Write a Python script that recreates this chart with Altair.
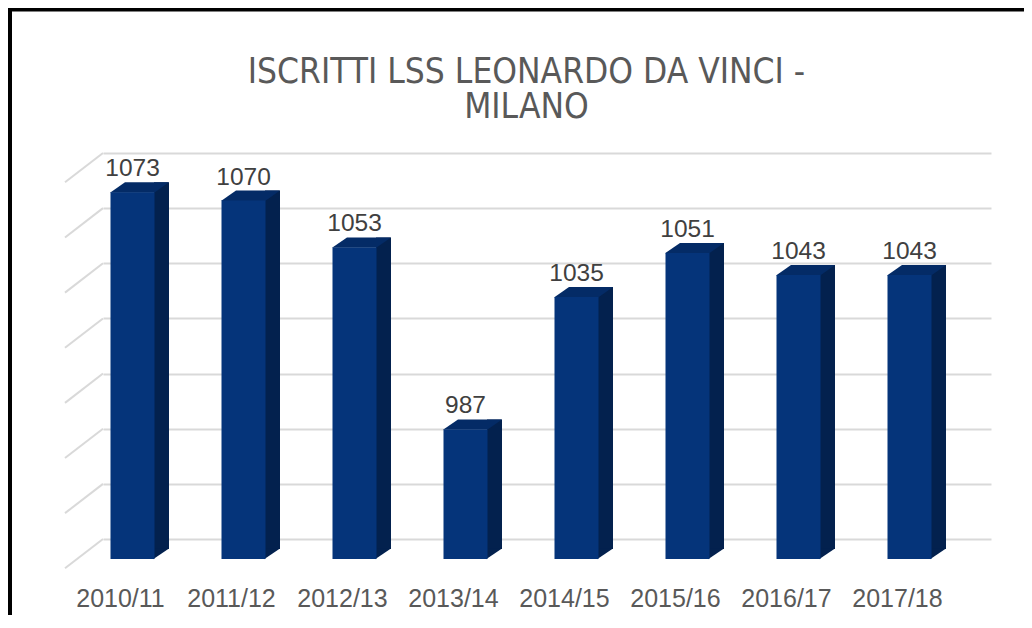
import altair as alt
import pandas as pd

# ---- data ----
years = ["2010/11", "2011/12", "2012/13", "2013/14", "2014/15", "2015/16", "2016/17", "2017/18"]
iscritti = [1073, 1070, 1053, 987, 1035, 1051, 1043, 1043]
grid_values = [940, 960, 980, 1000, 1020, 1040, 1060, 1080]
title_lines = ["ISCRITTI LSS LEONARDO DA VINCI -", "MILANO"]

Y_MIN, Y_MAX = 940, 1080
W, H = 888, 386
PL, PT, PR, PB = 95, 145, 33, 76

FRONT = "#05347A"
TOP = "#042B66"
SIDE = "#03214E"
GRID = "#D9D9D9"
TXT = "#595959"
LBL = "#404040"
LABEL_FONT = "Liberation Sans"
TITLE_FONT = "'Liberation Sans Narrow', 'DejaVu Sans Condensed', sans-serif"

df = pd.DataFrame({"anno": years, "iscritti": iscritti, "base": [Y_MIN] * len(years)})
grid_df = pd.DataFrame({"v": grid_values})
one = pd.DataFrame({"k": [0]})

yscale = alt.Scale(domain=[Y_MIN, Y_MAX], zero=False, nice=False)
xscale = alt.Scale(domain=years, paddingInner=0, paddingOuter=0)

x_axis = alt.Axis(title=None, ticks=False, tickSize=0, domain=False, labelAngle=0,
                  labelFont=LABEL_FONT, labelFontSize=25, labelColor=TXT,
                  labelOffset=-38, labelPadding=47, grid=False)
y_axis = alt.Axis(title=None, labels=False, ticks=False, domain=False, grid=True,
                  values=grid_values, gridColor=GRID, gridWidth=2)

X = alt.X("anno:N", sort=years, scale=xscale, axis=x_axis)


def Yq(field):
    return alt.Y(field, scale=yscale, axis=y_axis)


base = alt.Chart(df)

# side wall gridlines (diagonals)
diag = alt.Chart(grid_df).mark_rule(color=GRID, strokeWidth=2, yOffset=29.3).encode(
    x=alt.value(-38), x2=alt.value(0),
    y=Yq("v:Q"), y2=alt.Y2("v:Q"))

side = base.mark_bar(color=SIDE, width=15, xOffset=3, yOffset=10, y2Offset=10).encode(
    x=X, y=Yq("iscritti:Q"), y2=alt.Y2("base:Q"))

TRI = "M-0.03,0.345L-0.03,-0.02L0.5,-0.02Z"
side_bottom = base.mark_point(shape=TRI, size=3600, filled=True, color=SIDE, opacity=1,
                              strokeWidth=0, xOffset=-4.5, yOffset=10).encode(
    x=X, y=Yq("base:Q"))

PARA = "M-0.983,0.18L0.49,0.18L0.983,-0.167L-0.483,-0.167Z"
top = base.mark_point(shape=PARA, size=3600, filled=True, color=TOP, opacity=1,
                      strokeWidth=0, xOffset=-19, yOffset=15).encode(
    x=X, y=Yq("iscritti:Q"))

front = base.mark_bar(color=FRONT, width=44, xOffset=-26, yOffset=20, y2Offset=20).encode(
    x=X, y=Yq("iscritti:Q"), y2=alt.Y2("base:Q"))

labels = base.mark_text(dx=-26, dy=4, baseline="alphabetic", align="center",
                        font=LABEL_FONT, fontSize=24.5, color=LBL).encode(
    x=X, y=Yq("iscritti:Q"), text=alt.Text("iscritti:Q"))

# title: one two-line text
title = alt.Chart(one).mark_text(font=TITLE_FONT, fontSize=35, color=TXT, lineHeight=35,
                                 align="center", baseline="alphabetic").encode(
    x=alt.value(423.5), y=alt.value(-70), text=alt.value(title_lines))

# frame of the picture
border_top = alt.Chart(one).mark_rule(color="black", strokeWidth=4).encode(
    x=alt.value(-PL), x2=alt.value(W + PR), y=alt.value(-PT + 1.5))
border_left = alt.Chart(one).mark_rule(color="black", strokeWidth=4).encode(
    x=alt.value(-PL + 2), y=alt.value(-PT), y2=alt.value(H + PB))

chart = alt.layer(
    diag, side, side_bottom, top, front, labels, title, border_top, border_left
).properties(
    width=W, height=H,
    padding={"left": PL, "top": PT, "right": PR, "bottom": PB},
    autosize=alt.AutoSizeParams(type="none"),
    background="white",
).configure_view(strokeWidth=0, stroke="transparent")

chart.save("out.html", embed_options={"renderer": "svg", "actions": False})
